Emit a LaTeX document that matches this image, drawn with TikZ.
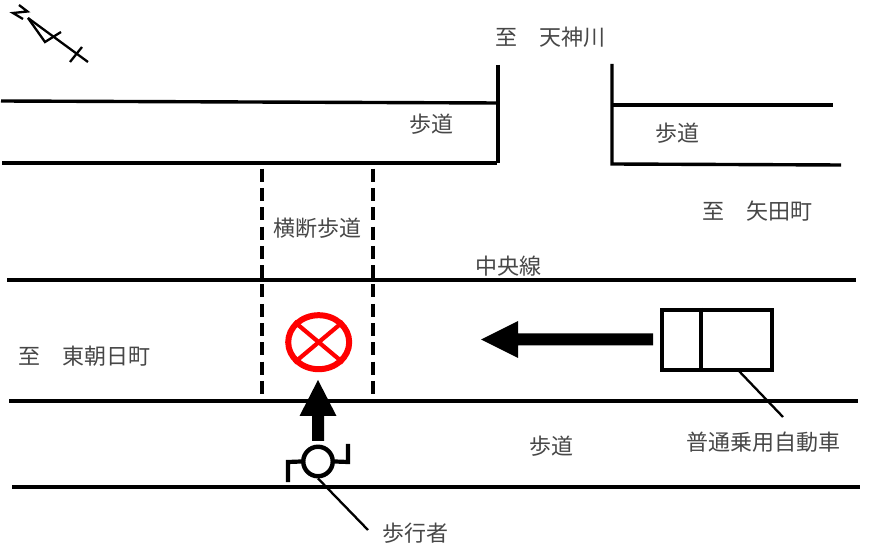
\documentclass[tikz,border=0pt]{standalone}
\usepackage{fontspec}
\setmainfont{Noto Sans CJK JP}[Scale=1]
\usetikzlibrary{calc,shapes.geometric}
\definecolor{ink}{gray}{0.0}
\definecolor{txt}{gray}{0.28}
\definecolor{stopred}{RGB}{255,0,0}
\tikzset{
  road/.style={draw=ink,line width=3.4pt},
  thin line/.style={draw=ink,line width=2.3pt},
  crossing/.style={draw=ink,line width=4.6pt,dash pattern=on 13pt off 6.3pt},
  label/.style={inner sep=0pt,text=txt,font=\fontsize{22}{24}\selectfont},
  bigarrow/.style={fill=ink,draw=none},
}
\begin{document}
\begin{tikzpicture}[x=1pt,y=-1pt]
\useasboundingbox (0,0) rectangle (895,553);
% compass
\draw[thin line,line join=miter] (19,5) -- (27.5,11.5) -- (13,13) -- (23,19);
\draw[thin line] (28,18) -- (88,62);
\draw[thin line] (28,18) -- (45,42) -- (61,32);
\draw[thin line] (70,62) -- (82,47);
% roads
\draw[road] (1,101) -- (498,103);
\draw[road] (2,163) -- (497,163);
\draw[road] (498,65) -- (498,163);
\draw[road] (612,64) -- (612,164) -- (841,165);
\draw[road] (612,105) -- (833,105);
\draw[road] (7,280) -- (856,280);
\draw[road] (9,401) -- (858,401);
\draw[road] (12,487) -- (860,487);
% crosswalk
\draw[crossing] (262,168.7) -- (262,395);
\draw[crossing] (373,168.7) -- (373,395);
% impact mark
\node[ellipse,draw=stopred,line width=6pt,minimum width=61pt,minimum height=54pt,inner sep=0pt] (impact) at (318.7,342.2) {};
\draw[stopred,line width=4.2pt] (impact.40) -- (impact.220);
\draw[stopred,line width=4.2pt] (impact.140) -- (impact.320);
% car
\node[draw=ink,line width=4.4pt,minimum width=109.6pt,minimum height=59.6pt,inner sep=0pt] (car) at (717,340) {};
\draw[draw=ink,line width=4.4pt] (car.north west -| 700.7,0) -- (car.south west -| 700.7,0);
\fill[bigarrow] (653,333.5) -- (518,333.5) -- (518,321) -- (481,339.5) -- (518,358) -- (518,345.5) -- (653,345.5) -- cycle;
% pedestrian
\node[circle,draw=ink,line width=4.4pt,minimum size=29.5pt,inner sep=0pt] (ped) at (318,461.5) {};
\draw[ink,line width=4.2pt] (ped.west) -- (288,462) -- (288,482);
\draw[ink,line width=4.2pt] (ped.east) -- (348,462) -- (348,444);
\fill[bigarrow] (312,441) -- (312,416) -- (299.5,416) -- (318,380) -- (336.5,416) -- (324,416) -- (324,441) -- cycle;
% labels
\node[label] (ten) at (550,37.5) {至　天神川};
\node[label] (sw1) at (431,124.5) {歩道};
\node[label] (sw2) at (677,133.5) {歩道};
\node[label] (yada) at (757,211.5) {至　矢田町};
\node[label] (cw) at (317.5,228.5) {横断歩道};
\node[label] (cl) at (508,266.5) {中央線};
\node[label] (hig) at (85,356.5) {至　東朝日町};
\node[label] (sw3) at (551,446.5) {歩道};
\node[label] (carl) at (763,442.5) {普通乗用自動車};
\node[label] (pedl) at (415,533.5) {歩行者};
% leaders
\coordinate (carend) at (783,417);
\coordinate (pedend) at (368,530);
\draw[thin line] (738,370) -- (carend);
\draw[thin line] (ped.south) -- (pedend);
\end{tikzpicture}
\end{document}
